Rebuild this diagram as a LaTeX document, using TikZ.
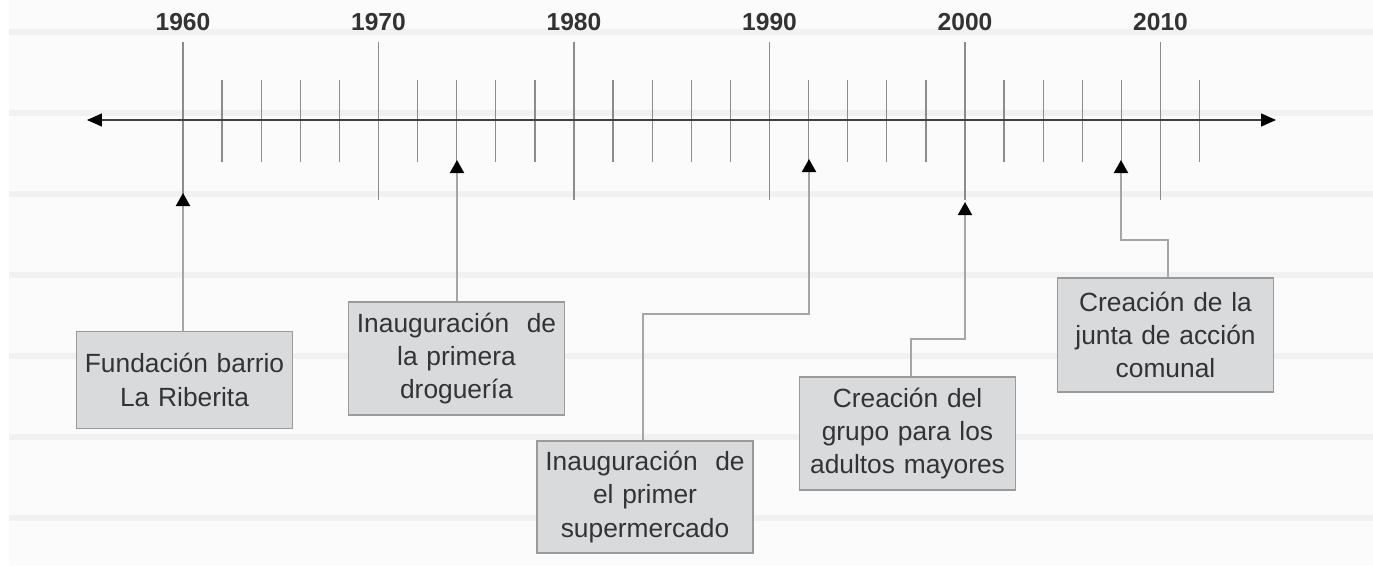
\documentclass[tikz,border=0pt]{standalone}
\usepackage{fontspec}
\setmainfont{Liberation Sans}
\usepackage{tikz}
\usetikzlibrary{arrows.meta, positioning, calc}

\definecolor{boxfill}{HTML}{D9DADC}
\definecolor{boxline}{HTML}{9A9A9A}
\definecolor{tickgray}{HTML}{8C8C8C}
\definecolor{linkgray}{HTML}{A6A6A6}
\definecolor{textgray}{HTML}{333333}
\definecolor{bandgray}{HTML}{F1F1F1}
\definecolor{paper}{HTML}{FBFBFB}

\begin{document}
\begin{tikzpicture}[
    x=0.02cm, y=-0.02cm,
    % Core styles
    axisline/.style={
        draw=black!75, line width=0.9pt,
        {Triangle[length=0.3cm, width=0.26cm, color=black]}-{Triangle[length=0.3cm, width=0.26cm, color=black]}
    },
    majortick/.style={draw=tickgray, line width=0.8pt},
    minortick/.style={draw=tickgray, line width=0.7pt},
    yearlabel/.style={font=\fontsize{14}{16}\selectfont\bfseries, text=textgray},
    event/.style={
        rectangle, draw=boxline, fill=boxfill, line width=0.8pt,
        minimum width=4.32cm, text width=4.1cm, inner sep=2pt,
        align=center, text=textgray, font=\fontsize{15}{19}\selectfont
    },
    link/.style={
        draw=linkgray, line width=1.1pt,
        -{Triangle[length=0.26cm, width=0.28cm, color=black]}
    }
]

% === BACKGROUND ===
\fill[white] (0,0) rectangle (1373,565);
\fill[paper] (9,0) rectangle (1373,565);
\foreach \yy in {32,113,194,275,356,437,518}
    \fill[bandgray] (9,\yy-3) rectangle (1373,\yy+3);

% === TIME AXIS ===
\coordinate (axisL) at (87,120);
\coordinate (axisR) at (1276,120);

% Minor ticks (every two years)
\foreach \yr in {1962,1964,...,2012}
    \draw[minortick] ({183+19.55*(\yr-1960)},80) -- ({183+19.55*(\yr-1960)},162);

% Major ticks and decade labels
\foreach \yr in {1960,1970,...,2010} {
    \draw[majortick] ({183+19.55*(\yr-1960)},42) -- ({183+19.55*(\yr-1960)},200);
    \node[yearlabel] (y\yr) at ({183+19.55*(\yr-1960)},22) {\yr};
}

\draw[axisline] (axisL) -- (axisR);

% === EVENTS ===
\node[event, minimum height=1.94cm] (fundacion) at (184.5,380) {Fundación barrio\\La Riberita};
\node[event, minimum height=2.26cm] (drogueria) at (456.5,358.5) {Inauguración\ \ de\\la primera\\droguería};
\node[event, minimum height=2.24cm] (super) at (645,497) {Inauguración\ \ de\\el primer\\supermercado};
\node[event, minimum height=2.26cm] (grupo) at (907.5,433.5) {Creación del\\grupo para los\\adultos mayores};
\node[event, minimum height=2.28cm] (junta) at (1165.5,335) {Creación de la\\junta de acción\\comunal};

% Arrow tips on the time axis
\coordinate (t1960) at (183,193);
\coordinate (t1974) at (457,160);
\coordinate (t1992) at (809,159);
\coordinate (t2000) at (965,202);
\coordinate (t2008) at (1121,160);

% Elbow points
\coordinate (k1992) at (809,314);
\coordinate (k2000) at (965,339);
\coordinate (k2008) at (1121,240);

% === CONNECTORS ===
\draw[link] (fundacion.north -| t1960) -- (t1960);
\draw[link] (drogueria.north -| t1974) -- (t1974);
\draw[link] ([xshift=-2*0.02cm]super.north) |- (k1992) -- (t1992);
\draw[link] ([xshift=3.5*0.02cm]grupo.north) |- (k2000) -- (t2000);
\draw[link] ([xshift=2.5*0.02cm]junta.north) |- (k2008) -- (t2008);

\end{tikzpicture}
\end{document}
